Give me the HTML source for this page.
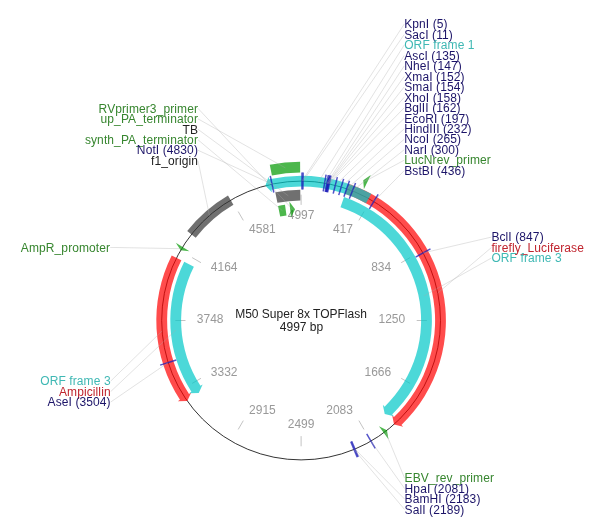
<!DOCTYPE html>
<html><head><meta charset="utf-8"><title>M50 Super 8x TOPFlash</title>
<style>html,body{margin:0;padding:0;background:#fff}svg{display:block}</style></head>
<body>
<svg width="601" height="531" viewBox="0 0 601 531" font-family="'Liberation Sans', sans-serif" font-size="12">
<rect width="601" height="531" fill="#fff"/>
<circle cx="301.1" cy="320.5" r="139.4" fill="none" stroke="#000" stroke-width="0.8"/>
<path d="M358.9 220.39L364 211.55" stroke="#aaa" stroke-width="1" opacity="0.7"/>
<text x="352.95" y="232.9" text-anchor="end" fill="#999">417</text>
<path d="M401.21 262.7L410.05 257.6" stroke="#aaa" stroke-width="1" opacity="0.7"/>
<text x="391.2" y="271.15" text-anchor="end" fill="#999">834</text>
<path d="M416.7 320.5L426.9 320.5" stroke="#aaa" stroke-width="1" opacity="0.7"/>
<text x="405.2" y="323.4" text-anchor="end" fill="#999">1250</text>
<path d="M401.21 378.3L410.05 383.4" stroke="#aaa" stroke-width="1" opacity="0.7"/>
<text x="391.2" y="375.65" text-anchor="end" fill="#999">1666</text>
<path d="M358.9 420.61L364 429.45" stroke="#aaa" stroke-width="1" opacity="0.7"/>
<text x="352.95" y="413.9" text-anchor="end" fill="#999">2083</text>
<path d="M301.1 436.1L301.1 446.3" stroke="#aaa" stroke-width="1" opacity="0.7"/>
<text x="301.1" y="427.9" text-anchor="middle" fill="#999">2499</text>
<path d="M243.3 420.61L238.2 429.45" stroke="#aaa" stroke-width="1" opacity="0.7"/>
<text x="249.05" y="413.9" text-anchor="start" fill="#999">2915</text>
<path d="M200.99 378.3L192.15 383.4" stroke="#aaa" stroke-width="1" opacity="0.7"/>
<text x="210.8" y="375.65" text-anchor="start" fill="#999">3332</text>
<path d="M185.5 320.5L175.3 320.5" stroke="#aaa" stroke-width="1" opacity="0.7"/>
<text x="196.8" y="323.4" text-anchor="start" fill="#999">3748</text>
<path d="M200.99 262.7L192.15 257.6" stroke="#aaa" stroke-width="1" opacity="0.7"/>
<text x="210.8" y="271.15" text-anchor="start" fill="#999">4164</text>
<path d="M243.3 220.39L238.2 211.55" stroke="#aaa" stroke-width="1" opacity="0.7"/>
<text x="249.05" y="232.9" text-anchor="start" fill="#999">4581</text>
<path d="M301.1 204.9L301.1 194.7" stroke="#aaa" stroke-width="1" opacity="0.7"/>
<text x="301.1" y="218.9" text-anchor="middle" fill="#999">4997</text>
<text x="301" y="318.4" text-anchor="middle" fill="#222">M50 Super 8x TOPFlash</text>
<text x="301.5" y="331" text-anchor="middle" fill="#222">4997 bp</text>
<path d="M348.46 183.66A144.8 144.8 0 0 1 401.46 424.88L403.26 426.75L394.05 424.39L392.17 415.22L393.98 417.09A134 134 0 0 0 344.93 193.87Z" fill="#ff0000" opacity="0.7"/>
<path d="M371.22 193.81A144.8 144.8 0 0 0 269.05 179.29L268.48 176.75L265.39 185.75L272.02 192.36L271.44 189.82A134 134 0 0 1 365.99 203.26Z" fill="#00c8c8" opacity="0.7"/>
<path d="M187.2 231.1A144.8 144.8 0 0 1 227.98 195.52L233.43 204.84A134 134 0 0 0 195.69 237.76Z" fill="#333333" opacity="0.7"/>
<path d="M180.63 250.37L175.81 242.85L189.41 251.28Z" fill="#009900" opacity="0.7"/>
<path d="M171.71 255.5A144.8 144.8 0 0 0 179.98 399.85L177.8 401.27L187.31 401.02L191.18 392.5L189.01 393.93A134 134 0 0 1 181.36 260.35Z" fill="#ff0000" opacity="0.7"/>
<path d="M386.93 430.34L388.46 439.22L378.98 426.34Z" fill="#009900" opacity="0.7"/>
<path d="M344.04 196.95A130.8 130.8 0 0 1 392.13 414.42L393.94 416.29L384.72 413.95L382.81 404.8L384.62 406.67A120 120 0 0 0 340.49 207.15Z" fill="#00c8c8" opacity="0.7"/>
<path d="M184.22 261.78A130.8 130.8 0 0 0 191.4 391.74L189.22 393.15L198.74 392.93L202.64 384.44L200.46 385.85A120 120 0 0 1 193.87 266.63Z" fill="#00c8c8" opacity="0.7"/>
<path d="M275.28 192.27A130.8 130.8 0 0 1 300.28 189.7L300.35 200.5A120 120 0 0 0 277.42 202.86Z" fill="#333333" opacity="0.7"/>
<path d="M269.76 164.82A158.8 158.8 0 0 1 300.1 161.7L300.17 172.5A148 148 0 0 0 271.89 175.41Z" fill="#009900" opacity="0.7"/>
<path d="M363.29 180.27L370.78 174.91L363.87 189.35Z" fill="#009900" opacity="0.7"/>
<path d="M278.05 206A116.8 116.8 0 0 1 285 204.82L286.49 215.51A106 106 0 0 0 280.18 216.58Z" fill="#009900" opacity="0.7"/>
<path d="M295.08 209.26L289.41 201.67L290.98 217.6Z" fill="#009900" opacity="0.7"/>
<path d="M301.92 189.6L302.03 172.6" stroke="#1c1cb8" stroke-width="1.5" opacity="0.75"/>
<path d="M302.91 189.61L303.15 172.61" stroke="#1c1cb8" stroke-width="1.5" opacity="0.75"/>
<path d="M323.21 191.48L326.09 174.73" stroke="#1c1cb8" stroke-width="1.5" opacity="0.75"/>
<path d="M325.16 191.83L328.28 175.12" stroke="#1c1cb8" stroke-width="1.5" opacity="0.75"/>
<path d="M325.97 191.98L329.2 175.29" stroke="#1c1cb8" stroke-width="1.5" opacity="0.75"/>
<path d="M326.29 192.05L329.56 175.36" stroke="#1c1cb8" stroke-width="1.5" opacity="0.75"/>
<path d="M326.93 192.17L330.29 175.51" stroke="#1c1cb8" stroke-width="1.5" opacity="0.75"/>
<path d="M327.58 192.31L331.02 175.66" stroke="#1c1cb8" stroke-width="1.5" opacity="0.75"/>
<path d="M333.19 193.6L337.36 177.11" stroke="#1c1cb8" stroke-width="1.5" opacity="0.75"/>
<path d="M338.75 195.13L343.64 178.85" stroke="#1c1cb8" stroke-width="1.5" opacity="0.75"/>
<path d="M343.91 196.8L349.47 180.73" stroke="#1c1cb8" stroke-width="1.5" opacity="0.75"/>
<path d="M349.32 198.8L355.58 183" stroke="#1c1cb8" stroke-width="1.5" opacity="0.75"/>
<path d="M369.32 208.78L378.18 194.27" stroke="#1c1cb8" stroke-width="1.5" opacity="0.75"/>
<path d="M415.61 257.08L430.48 248.84" stroke="#1c1cb8" stroke-width="1.5" opacity="0.75"/>
<path d="M366.7 433.77L375.22 448.48" stroke="#1c1cb8" stroke-width="1.5" opacity="0.75"/>
<path d="M351.68 441.23L358.25 456.91" stroke="#1c1cb8" stroke-width="1.5" opacity="0.75"/>
<path d="M350.77 441.61L357.22 457.34" stroke="#1c1cb8" stroke-width="1.5" opacity="0.75"/>
<path d="M176.3 359.99L160.09 365.12" stroke="#1c1cb8" stroke-width="1.5" opacity="0.75"/>
<path d="M273.81 192.48L270.27 175.85" stroke="#1c1cb8" stroke-width="1.5" opacity="0.75"/>
<path d="M301.98 181.1L404.2 24.1" stroke="#aaa" stroke-width="0.8" opacity="0.42"/>
<path d="M303.03 181.11L404.2 34.57" stroke="#aaa" stroke-width="0.8" opacity="0.42"/>
<path d="M318.23 182.16L404.2 45.04" stroke="#aaa" stroke-width="0.8" opacity="0.42"/>
<path d="M324.65 183.1L404.2 55.51" stroke="#aaa" stroke-width="0.8" opacity="0.42"/>
<path d="M326.72 183.47L404.2 65.98" stroke="#aaa" stroke-width="0.8" opacity="0.42"/>
<path d="M327.58 183.64L404.2 76.45" stroke="#aaa" stroke-width="0.8" opacity="0.42"/>
<path d="M327.92 183.71L404.2 86.92" stroke="#aaa" stroke-width="0.8" opacity="0.42"/>
<path d="M328.61 183.84L404.2 97.39" stroke="#aaa" stroke-width="0.8" opacity="0.42"/>
<path d="M329.3 183.98L404.2 107.86" stroke="#aaa" stroke-width="0.8" opacity="0.42"/>
<path d="M335.28 185.35L404.2 118.33" stroke="#aaa" stroke-width="0.8" opacity="0.42"/>
<path d="M341.19 186.99L404.2 128.8" stroke="#aaa" stroke-width="0.8" opacity="0.42"/>
<path d="M346.69 188.77L404.2 139.27" stroke="#aaa" stroke-width="0.8" opacity="0.42"/>
<path d="M352.45 190.9L404.2 149.74" stroke="#aaa" stroke-width="0.8" opacity="0.42"/>
<path d="M365.31 181.19L404.2 160.21" stroke="#aaa" stroke-width="0.8" opacity="0.42"/>
<path d="M373.75 201.53L404.2 170.68" stroke="#aaa" stroke-width="0.8" opacity="0.42"/>
<path d="M423.05 252.96L491.4 237.1" stroke="#aaa" stroke-width="0.8" opacity="0.42"/>
<path d="M437.77 293.03L491.4 247.57" stroke="#aaa" stroke-width="0.8" opacity="0.42"/>
<path d="M424.06 295.87L491.4 258.04" stroke="#aaa" stroke-width="0.8" opacity="0.42"/>
<path d="M385.33 431.57L404.6 478.1" stroke="#aaa" stroke-width="0.8" opacity="0.42"/>
<path d="M370.96 441.13L404.6 488.57" stroke="#aaa" stroke-width="0.8" opacity="0.42"/>
<path d="M354.96 449.07L404.6 499.04" stroke="#aaa" stroke-width="0.8" opacity="0.42"/>
<path d="M353.99 449.48L404.6 509.51" stroke="#aaa" stroke-width="0.8" opacity="0.42"/>
<path d="M292.63 209.42L198 108.4" stroke="#aaa" stroke-width="0.8" opacity="0.42"/>
<path d="M285.41 167.9L198 118.87" stroke="#aaa" stroke-width="0.8" opacity="0.42"/>
<path d="M288.27 195.76L198 129.34" stroke="#aaa" stroke-width="0.8" opacity="0.42"/>
<path d="M282.42 210.68L198 139.81" stroke="#aaa" stroke-width="0.8" opacity="0.42"/>
<path d="M272.04 184.16L198 150.28" stroke="#aaa" stroke-width="0.8" opacity="0.42"/>
<path d="M209.46 215.45L198 160.75" stroke="#aaa" stroke-width="0.8" opacity="0.42"/>
<path d="M181.61 248.71L110.2 247.4" stroke="#aaa" stroke-width="0.8" opacity="0.42"/>
<path d="M162.09 330.96L110.7 381.1" stroke="#aaa" stroke-width="0.8" opacity="0.42"/>
<path d="M176.05 329.91L110.7 391.57" stroke="#aaa" stroke-width="0.8" opacity="0.42"/>
<path d="M168.2 362.56L110.7 402.04" stroke="#aaa" stroke-width="0.8" opacity="0.42"/>
<text x="404.2" y="28.3" text-anchor="start" fill="#1c1468" letter-spacing="0.1">KpnI (5)</text>
<text x="404.2" y="38.77" text-anchor="start" fill="#1c1468" letter-spacing="0.1">SacI (11)</text>
<text x="404.2" y="49.24" text-anchor="start" fill="#3fb8b4" letter-spacing="0.1">ORF frame 1</text>
<text x="404.2" y="59.71" text-anchor="start" fill="#1c1468" letter-spacing="0.1">AscI (135)</text>
<text x="404.2" y="70.18" text-anchor="start" fill="#1c1468" letter-spacing="0.1">NheI (147)</text>
<text x="404.2" y="80.65" text-anchor="start" fill="#1c1468" letter-spacing="0.1">XmaI (152)</text>
<text x="404.2" y="91.12" text-anchor="start" fill="#1c1468" letter-spacing="0.1">SmaI (154)</text>
<text x="404.2" y="101.59" text-anchor="start" fill="#1c1468" letter-spacing="0.1">XhoI (158)</text>
<text x="404.2" y="112.06" text-anchor="start" fill="#1c1468" letter-spacing="0.1">BglII (162)</text>
<text x="404.2" y="122.53" text-anchor="start" fill="#1c1468" letter-spacing="0.1">EcoRI (197)</text>
<text x="404.2" y="133" text-anchor="start" fill="#1c1468" letter-spacing="0.1">HindIII (232)</text>
<text x="404.2" y="143.47" text-anchor="start" fill="#1c1468" letter-spacing="0.1">NcoI (265)</text>
<text x="404.2" y="153.94" text-anchor="start" fill="#1c1468" letter-spacing="0.1">NarI (300)</text>
<text x="404.2" y="164.41" text-anchor="start" fill="#37862f" letter-spacing="0.1">LucNrev_primer</text>
<text x="404.2" y="174.88" text-anchor="start" fill="#1c1468" letter-spacing="0.1">BstBI (436)</text>
<text x="491.4" y="241.3" text-anchor="start" fill="#1c1468" letter-spacing="0.1">BclI (847)</text>
<text x="491.4" y="251.77" text-anchor="start" fill="#c0242e" letter-spacing="0.1">firefly_Luciferase</text>
<text x="491.4" y="262.24" text-anchor="start" fill="#3fb8b4" letter-spacing="0.1">ORF frame 3</text>
<text x="404.6" y="482.3" text-anchor="start" fill="#37862f" letter-spacing="0.1">EBV_rev_primer</text>
<text x="404.6" y="492.77" text-anchor="start" fill="#1c1468" letter-spacing="0.1">HpaI (2081)</text>
<text x="404.6" y="503.24" text-anchor="start" fill="#1c1468" letter-spacing="0.1">BamHI (2183)</text>
<text x="404.6" y="513.71" text-anchor="start" fill="#1c1468" letter-spacing="0.1">SalI (2189)</text>
<text x="198" y="112.6" text-anchor="end" fill="#37862f" letter-spacing="0.1">RVprimer3_primer</text>
<text x="198" y="123.07" text-anchor="end" fill="#37862f" letter-spacing="0.1">up_PA_terminator</text>
<text x="198" y="133.54" text-anchor="end" fill="#222222" letter-spacing="0.1">TB</text>
<text x="198" y="144.01" text-anchor="end" fill="#37862f" letter-spacing="0.1">synth_PA_terminator</text>
<text x="198" y="154.48" text-anchor="end" fill="#1c1468" letter-spacing="0.1">NotI (4830)</text>
<text x="198" y="164.95" text-anchor="end" fill="#222222" letter-spacing="0.1">f1_origin</text>
<text x="110.2" y="251.6" text-anchor="end" fill="#37862f" letter-spacing="0.1">AmpR_promoter</text>
<text x="110.7" y="385.3" text-anchor="end" fill="#3fb8b4" letter-spacing="0.1">ORF frame 3</text>
<text x="110.7" y="395.77" text-anchor="end" fill="#c0242e" letter-spacing="0.1">Ampicillin</text>
<text x="110.7" y="406.24" text-anchor="end" fill="#1c1468" letter-spacing="0.1">AseI (3504)</text>
</svg>
</body></html>
